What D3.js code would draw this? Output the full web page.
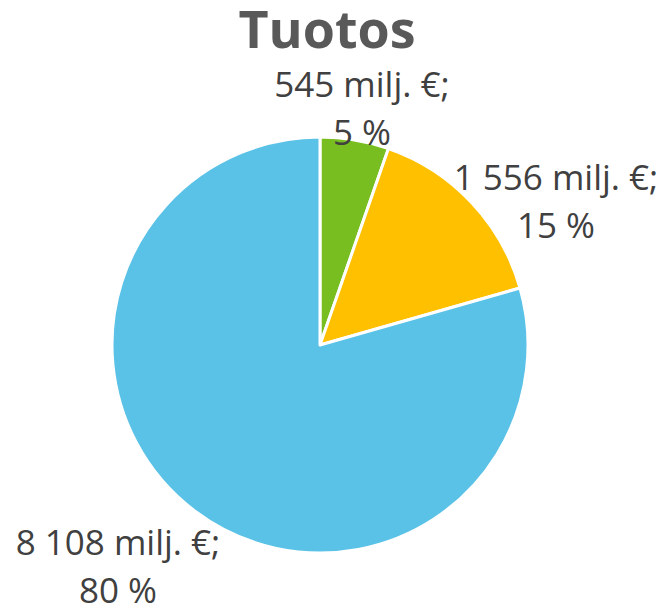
<!DOCTYPE html>
<html>
<head>
<meta charset="utf-8">
<script src="https://cdn.jsdelivr.net/npm/d3@7"></script>
<style>
  body { margin: 0; background: #fff; }
  text { font-family: "Open Sans", sans-serif; }
</style>
</head>
<body>
<svg id="chart"></svg>
<script>
const width = 664;
const height = 609;

const categories = ['Vihreä', 'Keltainen', 'Sininen'];
const values = [545, 1556, 8108];
const percents = [5, 15, 80];
const colors = ['#78BE21', '#FFC000', '#5BC2E7'];

// label anchor positions (centre x, first line baseline)
const labelPos = [[362, 97], [556, 190], [118, 555]];

const cx = 320;
const cy = 345;
const radius = 208;

const fmt = v => d3.format(',')(v).replace(/,/g, ' ');

const chart = d3.select('#chart')
  .attr('width', width)
  .attr('height', height);

chart.append('text')
  .attr('x', 327)
  .attr('y', 48)
  .attr('text-anchor', 'middle')
  .attr('font-size', 52)
  .attr('font-weight', 'bold')
  .attr('fill', '#595959')
  .text('Tuotos');

const pie = d3.pie().sort(null).value(d => d.value);
const arc = d3.arc().innerRadius(0).outerRadius(radius);

const data = categories.map((c, i) => ({name: c, value: values[i], pct: percents[i], i}));

const g = chart.append('g')
  .attr('transform', `translate(${cx}, ${cy})`);

g.selectAll('path')
  .data(pie(data))
  .enter()
  .append('path')
  .attr('d', arc)
  .attr('fill', d => colors[d.data.i])
  .attr('stroke', '#fff')
  .attr('stroke-width', 3)
  .attr('stroke-linejoin', 'round');

const label = chart.selectAll('.label')
  .data(data)
  .enter()
  .append('text')
  .attr('class', 'label')
  .attr('text-anchor', 'middle')
  .attr('font-size', 35)
  .attr('fill', '#404040');

label.append('tspan')
  .attr('x', d => labelPos[d.i][0])
  .attr('y', d => labelPos[d.i][1])
  .text(d => `${fmt(d.value)} milj. €;`);

label.append('tspan')
  .attr('x', d => labelPos[d.i][0])
  .attr('y', d => labelPos[d.i][1] + 48)
  .text(d => `${d.pct} %`);
</script>
</body>
</html>
